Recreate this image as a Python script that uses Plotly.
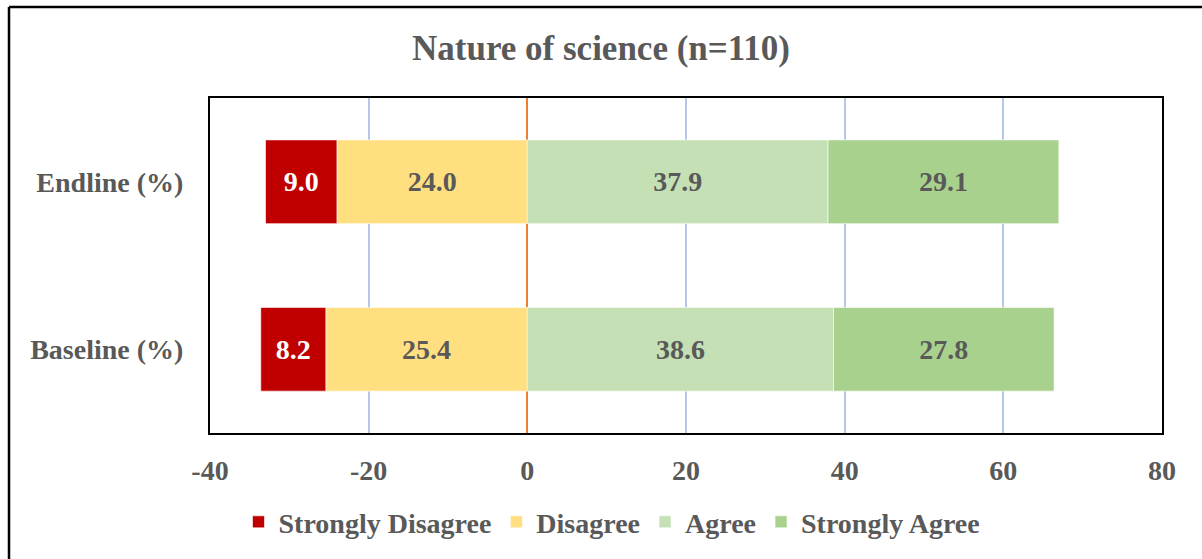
import plotly.graph_objects as go

categories = ["Baseline (%)", "Endline (%)"]
strongly_disagree = [8.2, 9.0]
disagree = [25.4, 24.0]
agree = [38.6, 37.9]
strongly_agree = [27.8, 29.1]
tick_vals = [-40, -20, 0, 20, 40, 60, 80]
tick_labels = ["-40", "-20", "0", "20", "40", "60", "80"]

FONT = "Liberation Serif"
GRAY = "#595959"

fig = go.Figure()

def add(name, vals, color, sign, rank, textcolor):
    fig.add_trace(go.Bar(
        y=categories, x=[sign * v for v in vals], orientation="h", name=name,
        marker=dict(color=color, line=dict(color="rgba(255,255,255,0.6)", width=1)),
        text=[f"{v:.1f}" for v in vals], textposition="inside", insidetextanchor="middle",
        textfont=dict(family=FONT, size=28, color=textcolor), legendrank=rank,
        hoverinfo="skip",
    ))

add("Disagree", disagree, "#FFDF80", -1, 2, GRAY)
add("Strongly Disagree", strongly_disagree, "#C00000", -1, 1, "white")
add("Agree", agree, "#C5E0B4", 1, 3, GRAY)
add("Strongly Agree", strongly_agree, "#A9D18E", 1, 4, GRAY)

fig.update_layout(
    width=1202, height=559,
    margin=dict(l=210, r=40, t=98, b=126),
    barmode="relative", bargap=0.5,
    paper_bgcolor="white", plot_bgcolor="white",
    font=dict(family=FONT, color=GRAY),
    title=dict(text="<b>Nature of science (n=110)</b>", x=0.5, xanchor="center",
               y=1 - 48 / 559, yanchor="middle", font=dict(size=35, color=GRAY, family=FONT)),
    legend=dict(orientation="h", x=(612 - 210) / 952, xanchor="center", y=-0.266, yanchor="middle",
                font=dict(size=28, color=GRAY, family=FONT), itemwidth=30, tracegroupgap=0),
    showlegend=True,
)
fig.update_xaxes(range=[-40, 80], tickvals=tick_vals, ticktext=[f"<b>{t}</b>" for t in tick_labels],
                 showgrid=True, gridcolor="#B4C7E7", gridwidth=1.5,
                 zeroline=True, zerolinecolor="#ED7D31", zerolinewidth=2,
                 showline=True, linecolor="black", linewidth=2, mirror=True,
                 tickfont=dict(size=28, color=GRAY, family=FONT), ticklabelstandoff=11,
                 ticks="")
fig.update_yaxes(showline=True, linecolor="black", linewidth=2, mirror=True,
                 tickfont=dict(size=28, color=GRAY, family=FONT), ticklabelstandoff=19,
                 ticks="", tickprefix="<b>", ticksuffix="</b>")
fig.update_traces(texttemplate="<b>%{text}</b>")
for tr in fig.data:
    tr.name = f"<b>{tr.name}</b>"

# outer chart border (extends beyond right and bottom edges)
x0 = (9 - 210) / 952
y0 = (433 - 7) / 335
fig.add_shape(type="line", xref="paper", yref="paper", x0=x0, x1=1.2, y0=y0, y1=y0,
              line=dict(color="black", width=2.5))
fig.add_shape(type="line", xref="paper", yref="paper", x0=x0, x1=x0, y0=y0, y1=-0.5,
              line=dict(color="black", width=2.5))

fig.write_html("out.html")
